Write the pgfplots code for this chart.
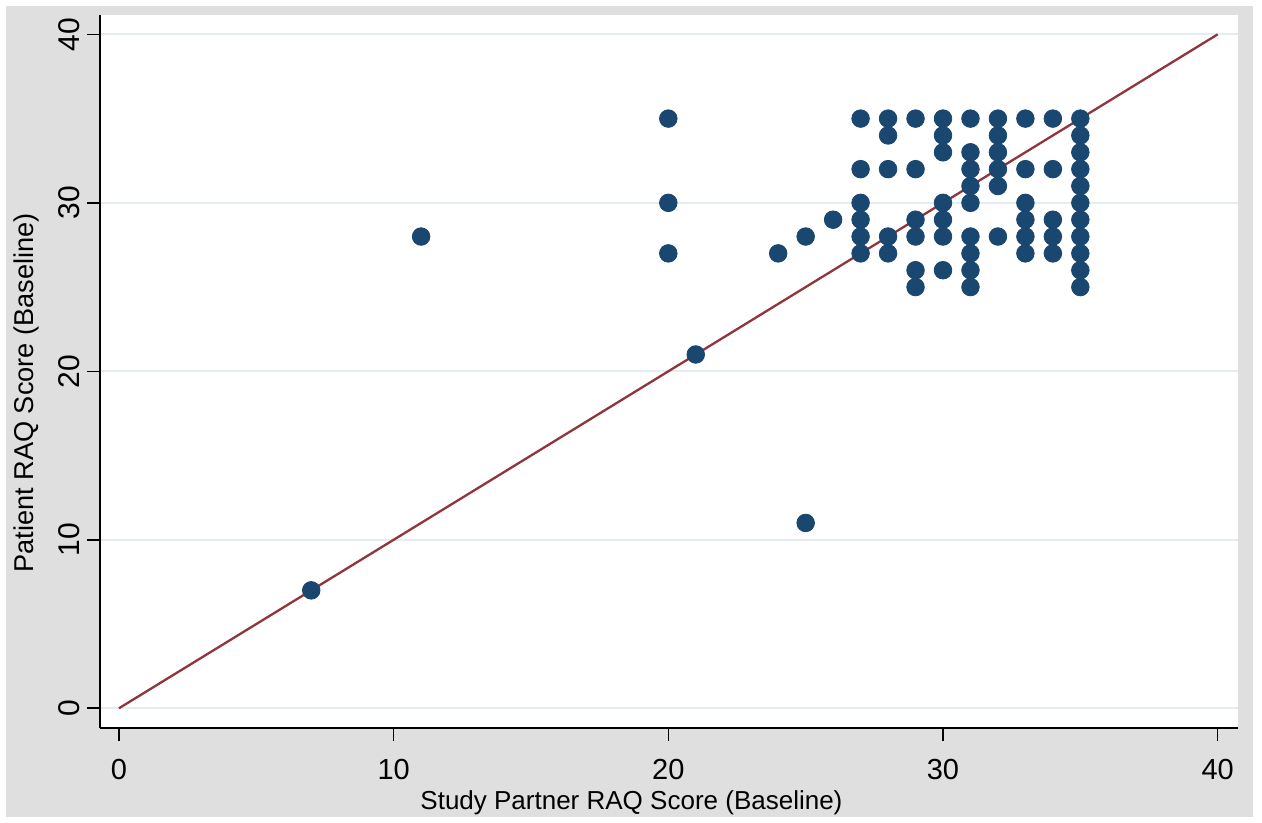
\documentclass[border=0pt]{standalone}
\usepackage{fontspec}
\setmainfont{Liberation Sans}
\usepackage{pgfplots}
\pgfplotsset{compat=1.18}
\definecolor{bggray}{RGB}{223,223,223}
\definecolor{stnavy}{RGB}{26,71,111}
\definecolor{stmaroon}{RGB}{144,53,59}
\definecolor{gridc}{RGB}{228,237,239}
\begin{document}
\begin{tikzpicture}
\path (-50pt,-47.5pt) rectangle (581pt,364pt);
\fill[bggray] (-47pt,-44.5pt) rectangle (576.5pt,361pt);
\begin{axis}[
  width=569pt, height=356.5pt, scale only axis,
  xmin=-0.69, xmax=40.74, ymin=-1.17, ymax=41.15,
  axis background/.style={fill=white},
  axis x line*=bottom, axis y line*=left,
  axis line style={line width=0.8pt, black},
  xtick={0,10,20,30,40}, ytick={0,10,20,30,40},
  tick align=outside, major tick length=6.5pt,
  tick style={line width=0.8pt, black},
  ymajorgrids, grid style={line width=0.9pt, gridc},
  /pgf/number format/assume math mode=true,
  xticklabel style={font=\fontsize{14.5}{17}\selectfont, yshift=-5.5pt},
  yticklabel style={font=\fontsize{15}{17}\selectfont, rotate=90, anchor=south},
  xlabel={Study Partner RAQ Score (Baseline)},
  ylabel={Patient RAQ Score (Baseline)},
  xlabel style={font=\fontsize{13}{15}\selectfont, at={(axis description cs:0.467,-0.1052)}, anchor=center},
  ylabel style={font=\fontsize{13.6}{15}\selectfont, at={(axis description cs:-0.065,0.47)}, anchor=center},
  clip=false,
]
\addplot[only marks, mark=*, mark size=4.4pt, color=stnavy, mark options={draw=none, fill=stnavy}] table {
x y
7 7
11 28
20 35
20 30
20 27
21 21
24 27
25 28
26 29
25 11
27 35
27 32
27 30
27 29
27 28
27 27
28 35
28 34
28 32
28 28
28 27
29 35
29 32
29 29
29 28
29 26
29 25
30 35
30 34
30 33
30 30
30 29
30 28
30 26
31 35
31 33
31 32
31 31
31 30
31 28
31 27
31 26
31 25
32 35
32 34
32 33
32 32
32 31
32 28
33 35
33 32
33 30
33 29
33 28
33 27
34 35
34 32
34 29
34 28
34 27
35 35
35 34
35 33
35 32
35 31
35 30
35 29
35 28
35 27
35 26
35 25
};
\addplot[no marks, color=stmaroon, line width=1.15pt] coordinates {(0,0) (40,40)};
\end{axis}
\end{tikzpicture}
\end{document}
